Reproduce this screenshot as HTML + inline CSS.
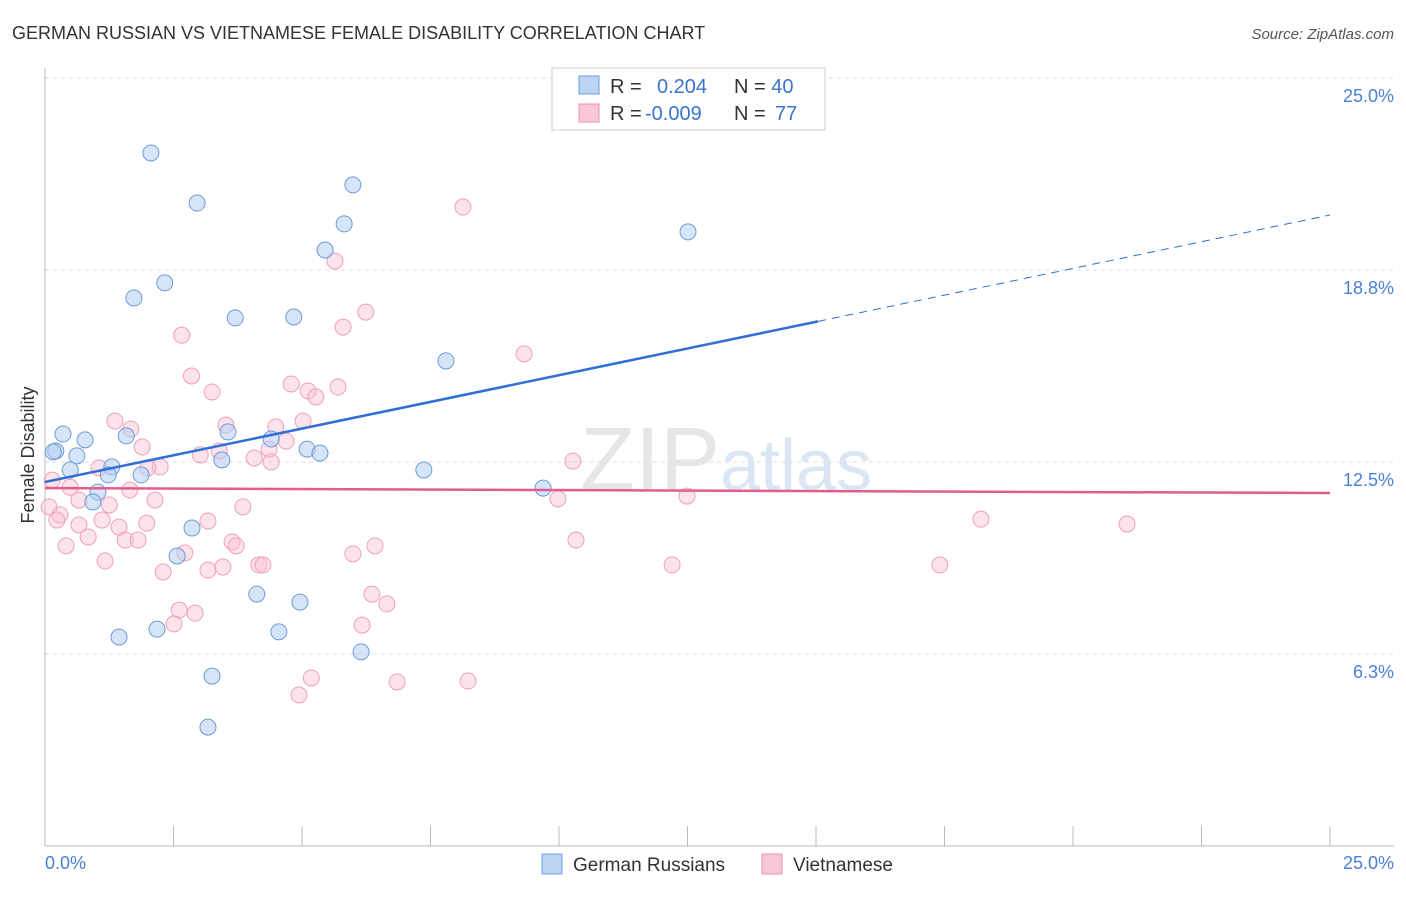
<!DOCTYPE html>
<html><head><meta charset="utf-8"><style>
body{margin:0;background:#fff;font-family:"Liberation Sans",sans-serif;}
svg text{font-family:"Liberation Sans",sans-serif;}
</style></head><body>
<svg width="1406" height="892" viewBox="0 0 1406 892">
<text x="12" y="39" font-size="18" fill="#333">GERMAN RUSSIAN VS VIETNAMESE FEMALE DISABILITY CORRELATION CHART</text>
<text x="1394" y="39" font-size="15" fill="#555" font-style="italic" text-anchor="end">Source: ZipAtlas.com</text>
<text x="720" y="490" font-size="90" fill="#e6e6e6" text-anchor="end" font-family="Liberation Serif">ZIP</text>
<text x="720" y="490" font-size="72" fill="#dbe6f4">atlas</text>
<g id="grid"></g>
<g id="axes"></g>
<g id="pts"></g>
<g id="lines"></g>
<text transform="translate(34,455) rotate(-90)" font-size="18" fill="#333" text-anchor="middle">Female Disability</text>
<text x="45" y="869" font-size="18" fill="#4a7fd4">0.0%</text>
<text x="1394" y="869" font-size="18" fill="#4a7fd4" text-anchor="end">25.0%</text>
<g>
<rect x="552" y="68" width="273" height="62" fill="#fff" stroke="#ccc"/>
<rect x="579" y="76" width="20" height="18" fill="#bcd4f3" stroke="#6b9be0"/>
<rect x="579" y="104" width="20" height="18" fill="#f9c8d8" stroke="#ec92b0"/>
<text x="610" y="93" font-size="20" fill="#333">R = <tspan fill="#3a73d0" x="657">0.204</tspan><tspan x="734">N = </tspan><tspan fill="#3a73d0">40</tspan></text>
<text x="610" y="120" font-size="20" fill="#333">R = <tspan fill="#3a73d0" x="645">-0.009</tspan><tspan x="734">N = </tspan><tspan fill="#3a73d0" x="775">77</tspan></text>
</g>
<g>
<rect x="542" y="854" width="20" height="20" fill="#bcd4f3" stroke="#6b9be0"/>
<text x="573" y="871" font-size="19" fill="#333">German Russians</text>
<rect x="762" y="854" width="20" height="20" fill="#f9c8d8" stroke="#ec92b0"/>
<text x="793" y="871" font-size="19" fill="#333">Vietnamese</text>
</g>
</svg>
<script>
const yTicks=[6.25,12.5,18.75,25];
const yTickLabels=["6.3%","12.5%","18.8%","25.0%"];
const blueX=[2.06,2.96,5.99,5.82,5.45,2.33,1.73,3.70,4.84,12.51,7.80,0.35,0.78,1.58,3.56,4.40,5.10,5.35,0.21,0.62,0.16,0.49,1.30,1.23,1.87,3.44,7.37,9.69,1.03,0.93,2.86,2.57,4.12,4.96,1.44,2.18,4.55,6.15,3.25,3.17];
const blueY=[22.56,20.93,21.52,20.25,19.40,18.33,17.84,17.19,17.22,19.99,15.79,13.41,13.22,13.35,13.48,13.25,12.92,12.79,12.86,12.70,12.83,12.24,12.34,12.08,12.08,12.57,12.24,11.65,11.52,11.20,10.35,9.44,8.20,7.94,6.80,7.06,6.97,6.32,5.53,3.87];
const pinkX=[8.13,5.64,6.24,5.80,2.66,9.32,2.85,4.79,3.25,5.12,5.70,5.27,1.36,1.67,3.52,4.49,5.02,1.89,4.69,3.39,3.02,4.36,4.07,4.40,2.24,2.00,1.05,10.27,0.14,0.49,1.65,2.14,0.66,1.25,3.85,9.98,12.49,0.08,0.29,0.23,1.11,0.66,1.98,1.44,3.17,18.21,21.05,0.84,1.56,1.81,3.64,3.72,6.42,10.33,0.41,5.99,2.72,1.17,2.30,3.17,3.46,4.16,4.24,12.20,17.41,6.36,6.65,2.61,2.92,2.51,6.17,5.18,6.85,8.23,4.94];
const pinkY=[20.80,19.04,17.38,16.89,16.63,16.02,15.30,15.04,14.78,14.81,14.94,14.62,13.83,13.57,13.70,13.64,13.83,12.99,13.18,12.86,12.73,12.92,12.63,12.50,12.34,12.31,12.31,12.53,11.91,11.68,11.59,11.26,11.26,11.10,11.04,11.30,11.39,11.04,10.78,10.61,10.61,10.45,10.51,10.38,10.58,10.64,10.48,10.06,9.96,9.96,9.90,9.77,9.77,9.96,9.77,9.51,9.54,9.28,8.92,8.98,9.08,9.15,9.15,9.15,9.15,8.20,7.88,7.68,7.58,7.23,7.19,5.47,5.34,5.37,4.92];
const blueTrend=[11.85,20.54];
const pinkTrend=[11.65,11.49];
const X=v=>45+v*51.4, Y=v=>846-v*30.72;
const NS="http://www.w3.org/2000/svg";
function mk(tag,attrs,parent){const e=document.createElementNS(NS,tag);for(const k in attrs)e.setAttribute(k,attrs[k]);parent.appendChild(e);return e;}
const grid=document.getElementById('grid');
yTicks.forEach((t,i)=>{
 const l=mk('line',{x1:45,x2:1394,y1:Y(t),y2:Y(t),stroke:'#ddd','stroke-dasharray':'4,4'},grid);
 
 
 const tx=mk('text',{x:1394,y:Y(t)+24,'font-size':18,fill:'#4a7fd4','text-anchor':'end'},grid);
 tx.textContent=yTickLabels[i];
 
 
});
const axes=document.getElementById('axes');
const ya=mk('line',{x1:45,x2:45,y1:68,y2:846,stroke:'#bbb'},axes);


const xa=mk('line',{x1:45,x2:1394,y1:846,y2:846,stroke:'#bbb'},axes);


for(let i=0;i<=10;i++){const t=mk('line',{x1:X(i*2.5),x2:X(i*2.5),y1:826,y2:846,stroke:'#bbb'},axes);
 
 }
const pts=document.getElementById('pts');
pinkX.forEach((x,i)=>{const c=mk('circle',{cx:X(x),cy:Y(pinkY[i]),r:8,fill:'rgba(249,190,210,0.45)',stroke:'#eea0bb','stroke-width':1},pts);
 
 });
blueX.forEach((x,i)=>{const c=mk('circle',{cx:X(x),cy:Y(blueY[i]),r:8,fill:'rgba(180,205,240,0.55)',stroke:'#6d9bd9','stroke-width':1},pts);
 
 });
const lines=document.getElementById('lines');
const bAt=v=>blueTrend[0]+(blueTrend[1]-blueTrend[0])*v/25;
const b1=mk('line',{x1:X(0),y1:Y(bAt(0)),x2:X(15.04),y2:Y(bAt(15.04)),stroke:'#2f6fd6','stroke-width':2.5},lines);


const b2=mk('line',{x1:X(15.04),y1:Y(bAt(15.04)),x2:X(25),y2:Y(bAt(25)),stroke:'#2f6fd6','stroke-width':1,'stroke-dasharray':'8,6'},lines);


const p1=mk('line',{x1:X(0),y1:Y(pinkTrend[0]),x2:X(25),y2:Y(pinkTrend[1]),stroke:'#e35d8c','stroke-width':2.5},lines);


</script>
</body></html>
